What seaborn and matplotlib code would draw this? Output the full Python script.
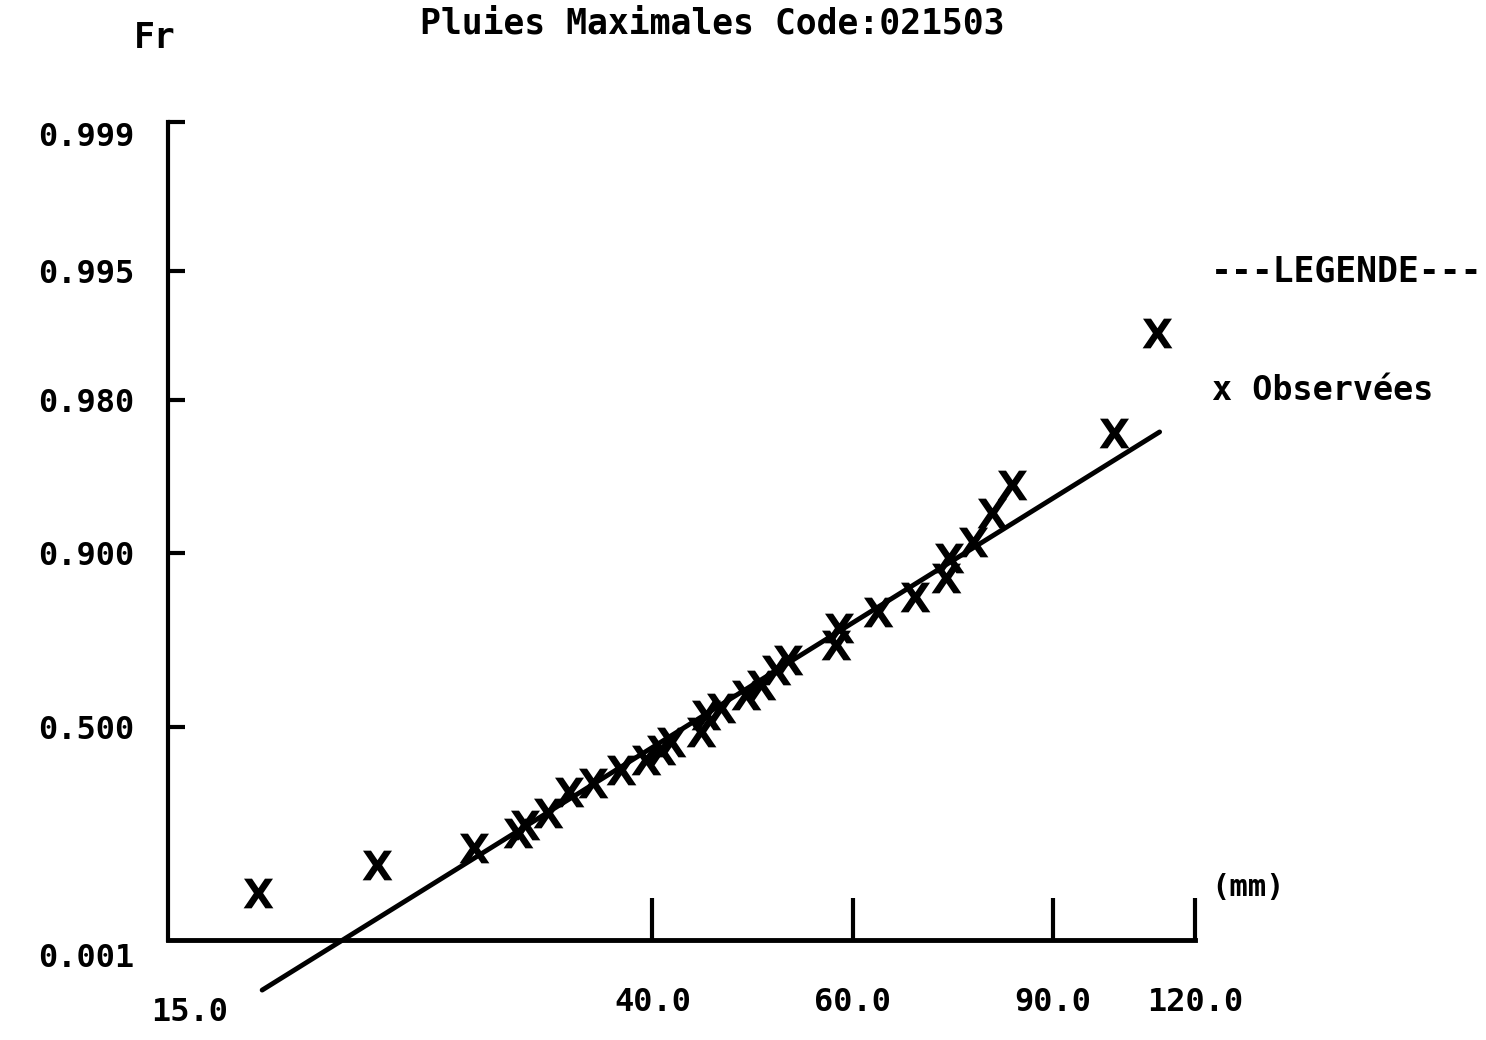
import numpy as np
import pandas as pd
import matplotlib
matplotlib.use('Agg')
import matplotlib.pyplot as plt
import matplotlib.transforms as mtransforms
import seaborn as sns

# DATA (rain in mm, non-exceedance frequency)
obs_mm = [18.0, 22.9, 27.9, 30.5, 30.9, 32.4, 33.8, 35.5, 37.5, 39.5,
          40.7, 41.5, 44.1, 44.6, 46.0, 48.3, 49.8, 51.4, 52.6, 58.0,
          58.4, 63.2, 68.1, 72.5, 72.9, 76.6, 79.5, 82.8, 101.8, 111.1]
obs_F = [0.0157, 0.0464, 0.0777, 0.1139, 0.1364, 0.1738, 0.2479, 0.2822, 0.3331, 0.3728,
         0.4125, 0.4438, 0.4824, 0.5452, 0.5699, 0.6134, 0.6449, 0.6887, 0.7155, 0.7523,
         0.7891, 0.8194, 0.8442, 0.8712, 0.8948, 0.9108, 0.9340, 0.9508, 0.9716, 0.9903]

fit_mm = [18.15, 111.7]
fit_F = [0.000007, 0.9719]

x_ticks = [15, 40, 60, 90, 120]
x_labels = ['15.0', '40.0', '60.0', '90.0', '120.0']
y_ticks = [0.001, 0.5, 0.9, 0.98, 0.995, 0.999]
y_labels = ['0.001', '0.500', '0.900', '0.980', '0.995', '0.999']

df = pd.DataFrame({'mm': obs_mm, 'F': obs_F})
fit = pd.DataFrame({'mm': fit_mm, 'F': fit_F})


# Gumbel probability paper
def gumbel(p):
    p = np.clip(np.asarray(p, dtype=float), 1e-12, 1 - 1e-12)
    return -np.log(-np.log(p))


def gumbel_inv(u):
    return np.exp(-np.exp(-np.asarray(u, dtype=float)))


sns.set_theme(style='white')
plt.rcParams['font.family'] = ['DejaVu Sans Mono']
plt.rcParams['text.color'] = 'black'
plt.rcParams['xtick.color'] = 'black'
plt.rcParams['ytick.color'] = 'black'
plt.rcParams['xtick.labelcolor'] = 'black'
plt.rcParams['ytick.labelcolor'] = 'black'

W, H = 1486, 1040
fig = plt.figure(figsize=(W / 100, H / 100), dpi=100)
ax = fig.add_axes([168 / W, 1 - 940 / H, (1195 - 168) / W, (940 - 122) / H])

sns.lineplot(data=fit, x='mm', y='F', color='black', linewidth=3.5,
             clip_on=False, ax=ax)
sns.scatterplot(data=df, x='mm', y='F', marker='$\\mathbf{X}$', s=460,
                color='black', linewidth=0, ax=ax, zorder=3)

ax.set_xscale('log')
ax.set_yscale('function', functions=(gumbel, gumbel_inv))
ax.set_xlim(15, 120)
ax.set_ylim(0.001, 0.999)

for s in ['top', 'right']:
    ax.spines[s].set_visible(False)
ax.spines['left'].set_linewidth(3)
ax.spines['bottom'].set_linewidth(3.5)
ax.spines['left'].set_color('black')
ax.spines['bottom'].set_color('black')

ax.set_xticks(x_ticks)
ax.set_xticklabels(x_labels)
ax.xaxis.set_minor_locator(matplotlib.ticker.NullLocator())
ax.set_yticks(y_ticks)
ax.set_yticklabels(y_labels)
ax.yaxis.set_minor_locator(matplotlib.ticker.NullLocator())

ax.tick_params(axis='x', direction='in', length=30, width=3, pad=34,
               labelsize=23, color='black', labelcolor='black', bottom=True)
ax.tick_params(axis='y', direction='in', length=12, width=3, pad=24,
               labelsize=23, color='black', labelcolor='black', left=True)
for lab in ax.get_xticklabels() + ax.get_yticklabels():
    lab.set_fontweight('bold')

ax.xaxis.get_major_ticks()[0].tick1line.set_visible(False)
ax.yaxis.get_major_ticks()[0].tick1line.set_visible(False)

# small shifts of the corner labels, as on the printout
def shift(lab, dx, dy):
    off = mtransforms.ScaledTranslation(dx / 100, -dy / 100, fig.dpi_scale_trans)
    lab.set_transform(lab.get_transform() + off)

shift(ax.get_xticklabels()[0], 22, 10)
shift(ax.get_yticklabels()[0], 0, 15)
shift(ax.get_yticklabels()[-1], 0, 12)

ax.set_xlabel('')
ax.set_ylabel('')

fig.text(155 / W, 1 - 38 / H, 'Fr', ha='center', va='center',
         fontsize=25, fontweight='bold')
fig.text(712 / W, 1 - 24 / H, 'Pluies Maximales Code:021503',
         ha='center', va='center', fontsize=25, fontweight='bold')
fig.text(1347 / W, 1 - 272 / H, '---LEGENDE---', ha='center', va='center',
         fontsize=25, fontweight='bold')
fig.text(1212 / W, 1 - 390 / H, 'x Observées', ha='left', va='center',
         fontsize=24, fontweight='bold')
fig.text(1248 / W, 1 - 888 / H, '(mm)', ha='center', va='center',
         fontsize=22, fontweight='bold')

fig.savefig('out.png', dpi=100, facecolor='white')
